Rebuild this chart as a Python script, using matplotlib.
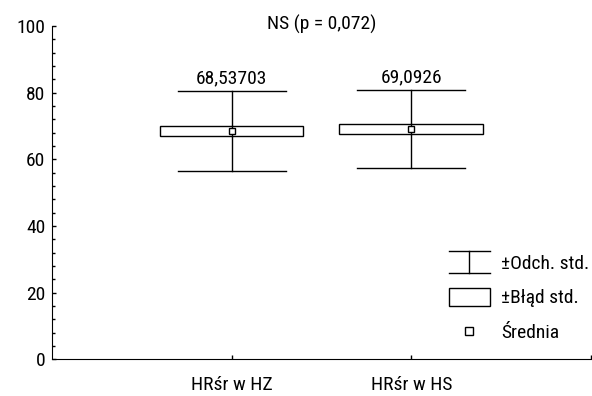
import numpy as np
import matplotlib.pyplot as plt
from matplotlib import font_manager as fm
from matplotlib.legend_handler import HandlerBase
from matplotlib.lines import Line2D
from matplotlib.patches import Rectangle
from matplotlib.ticker import MultipleLocator

# wybór wąskiej czcionki (jak Arial Narrow)
dostepne = set(f.name for f in fm.fontManager.ttflist)
for kandydat in ['Liberation Sans Narrow', 'Arial Narrow', 'Roboto Condensed',
                 'Archivo Narrow', 'PT Sans Narrow', 'Open Sans Condensed']:
    if kandydat in dostepne:
        plt.rcParams['font.family'] = [kandydat, 'DejaVu Sans']
        break
else:
    plt.rcParams['font.family'] = ['DejaVu Sans']
    plt.rcParams['font.stretch'] = 'condensed'
plt.rcParams['font.size'] = 14

# dane
grupy = ['HRśr w HZ', 'HRśr w HS']
srednie = [68.53703, 69.0926]
blad_std = [1.5, 1.5]
odch_std = [11.9, 11.7]
etykiety = ['68,53703', '69,0926']
tytul = 'NS (p = 0,072)'


class WasyHandler(HandlerBase):
    def create_artists(self, legend, orig, xd, yd, w, h, fs, trans):
        y0, y1 = -0.3 * h, 1.3 * h
        xm = w / 2
        return [Line2D([0, w], [y1, y1], color='black', lw=1, transform=trans),
                Line2D([0, w], [y0, y0], color='black', lw=1, transform=trans),
                Line2D([xm, xm], [y0, y1], color='black', lw=1, transform=trans)]


class PudelkoHandler(HandlerBase):
    def create_artists(self, legend, orig, xd, yd, w, h, fs, trans):
        return [Rectangle((0, -0.2 * h), w, 1.3 * h, facecolor='white',
                          edgecolor='black', lw=1, transform=trans)]


fig = plt.figure(figsize=(5.92, 3.96), dpi=100)
ax = fig.add_axes([0.088, 0.093, 0.91, 0.841])

x = np.arange(1, len(grupy) + 1)
for xi, m, se, sd, lab in zip(x, srednie, blad_std, odch_std, etykiety):
    ax.plot([xi, xi], [m - sd, m + sd], color='black', lw=1, zorder=1)
    ax.plot([xi - 0.3, xi + 0.3], [m + sd, m + sd], color='black', lw=1)
    ax.plot([xi - 0.3, xi + 0.3], [m - sd, m - sd], color='black', lw=1)
    ax.add_patch(Rectangle((xi - 0.4, m - se), 0.8, 2 * se, facecolor='white',
                           edgecolor='black', lw=1, zorder=2))
    ax.plot([xi, xi], [m - se, m + se], color='black', lw=1, zorder=3)
    ax.plot(xi, m, marker='s', ms=5, mfc='white', mec='black', mew=1, zorder=4)
    ax.text(xi, m + sd + 1.2, lab, ha='center', va='bottom')

ax.text(1.5, 100.5, tytul, ha='center', va='center')

ax.set_xlim(0, 3)
ax.set_ylim(0, 100)
ax.set_xticks([1, 2, 3])
ax.set_xticklabels(grupy + [''])
ax.set_yticks([0, 20, 40, 60, 80, 100])
ax.yaxis.set_minor_locator(MultipleLocator(4))
ax.tick_params(direction='in', length=3, width=1, pad=5)
ax.tick_params(which='minor', direction='in', length=2, width=1)
ax.tick_params(axis='x', pad=12)
ax.spines['top'].set_visible(False)
ax.spines['right'].set_visible(False)

uchwyty = [object(), object(),
           Line2D([], [], marker='s', ls='none', ms=6, mfc='white', mec='black')]
ax.legend(uchwyty, ['±Odch. std.', '±Błąd std.', 'Średnia'],
          handler_map={uchwyty[0]: WasyHandler(), uchwyty[1]: PudelkoHandler()},
          loc='lower right', bbox_to_anchor=(1.03, 0.0), frameon=False,
          handlelength=2.1, labelspacing=0.85, handletextpad=0.6)

fig.savefig('out.png', dpi=100)
